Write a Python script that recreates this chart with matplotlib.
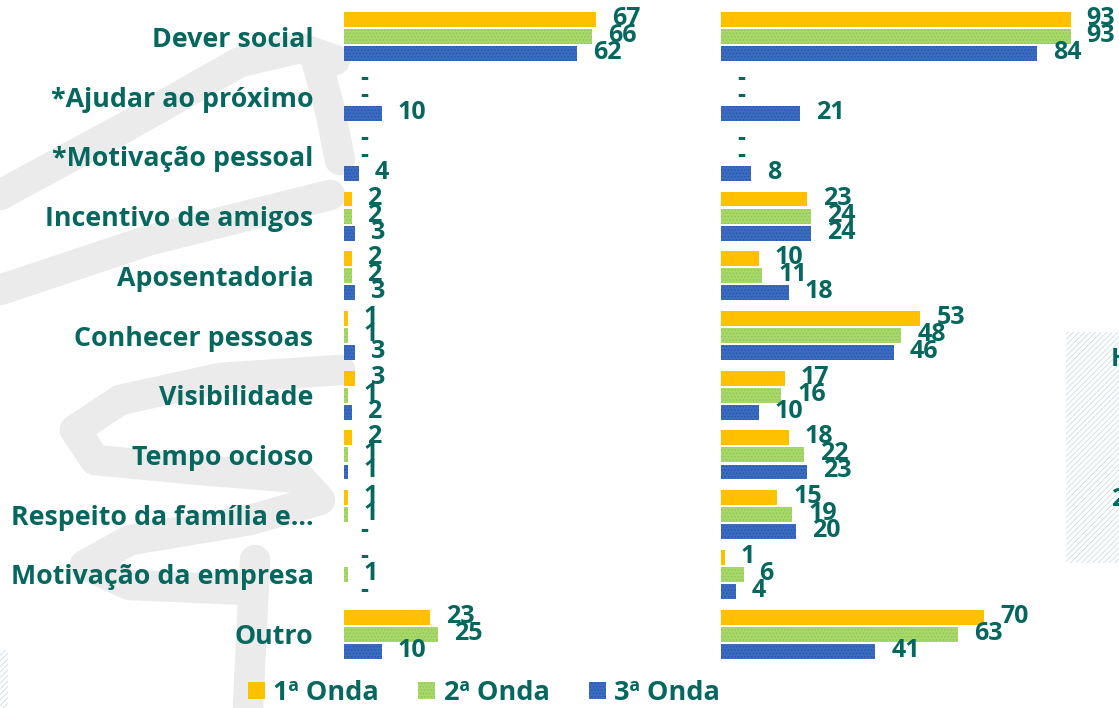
import matplotlib
matplotlib.use("Agg")
import matplotlib.pyplot as plt
from matplotlib.patches import Rectangle
import numpy as np

categories = ['Dever social', '*Ajudar ao próximo', '*Motivação pessoal',
              'Incentivo de amigos', 'Aposentadoria', 'Conhecer pessoas',
              'Visibilidade', 'Tempo ocioso', 'Respeito da família e...',
              'Motivação da empresa', 'Outro']
series_names = ['1ª Onda', '2ª Onda', '3ª Onda']

left_onda1 = [67, None, None, 2, 2, 1, 3, 2, 1, None, 23]
left_onda2 = [66, None, None, 2, 2, 1, 1, 1, 1, 1, 25]
left_onda3 = [62, 10, 4, 3, 3, 3, 2, 1, None, None, 10]

right_onda1 = [93, None, None, 23, 10, 53, 17, 18, 15, 1, 70]
right_onda2 = [93, None, None, 24, 11, 48, 16, 22, 19, 6, 63]
right_onda3 = [84, 21, 8, 24, 18, 46, 10, 23, 20, 4, 41]

TEAL = '#06675f'
FONT = 'Open Sans'
FS_CAT = 19.3
FS_VAL = 18
FS_LEG = 19.5
colors = ['#FFC000', '#A8D86A', '#3A6CC2']
hatch_cols = ['#FFC000', '#8DC653', '#2A55A0']
hatches = [None, '.....', '.....']

W, H = 1119, 708
fig = plt.figure(figsize=(W / 100, H / 100), dpi=100)
plt.rcParams['hatch.linewidth'] = 0.6

# background decoration layer (pixel coordinates)
bg = fig.add_axes([0, 0, 1, 1], zorder=-5)
bg.set_xlim(0, W)
bg.set_ylim(H, 0)
bg.axis('off')
wm = '#EBEBEB'
strokes = [
    [(0, 195), (120, 130), (240, 62), (300, 48), (335, 60)],
    [(315, 55), (330, 110), (340, 160)],
    [(0, 290), (150, 240), (330, 195)],
    [(340, 370), (220, 378), (120, 400), (75, 430), (95, 460), (200, 470),
     (300, 478), (320, 500), (250, 520), (130, 540), (85, 565), (130, 585),
     (250, 590)],
    [(255, 560), (248, 708)],
]
for s in strokes:
    xs, ys = zip(*s)
    bg.plot(xs, ys, color=wm, lw=22, solid_capstyle='round',
            solid_joinstyle='round')
bg.add_patch(Rectangle((1066, 332), 60, 231, facecolor='white',
                       edgecolor='#CFDCE3', hatch='//////', lw=0))
bg.add_patch(Rectangle((-5, 650), 13, 70, facecolor='white',
                       edgecolor='#CFDCE3', hatch='//////', lw=0))
bg.text(1111, 360, 'H', color=TEAL, fontsize=FS_VAL, fontweight='bold',
        family=FONT, va='center', ha='left')
bg.text(1111, 500, '2', color=TEAL, fontsize=FS_VAL, fontweight='bold',
        family=FONT, va='center', ha='left')

PX_PER_UNIT = 3.76
top_px, bot_px = 7, 664


def make_axes(x0_px, x1_px):
    ax = fig.add_axes([x0_px / W, 1 - bot_px / H, (x1_px - x0_px) / W,
                       (bot_px - top_px) / H])
    ax.set_xlim(0, (x1_px - x0_px) / PX_PER_UNIT)
    ax.set_ylim(len(categories) - 0.5, -0.5)
    ax.patch.set_alpha(0)
    for sp in ax.spines.values():
        sp.set_visible(False)
    ax.set_xticks([])
    ax.tick_params(axis='y', length=0, pad=22)
    return ax


ax_l = make_axes(344, 700)
ax_r = make_axes(721, W)

y = np.arange(len(categories))
offsets = [-0.285, 0.0, 0.285]
bh = 0.25


def draw(ax, data_series):
    handles = []
    for k, vals in enumerate(data_series):
        v = [0 if d is None else d for d in vals]
        b = ax.barh(y + offsets[k], v, height=bh, color=colors[k],
                    edgecolor=hatch_cols[k], hatch=hatches[k], lw=0,
                    label=series_names[k])
        handles.append(b)
        for yi, d in zip(y + offsets[k], vals):
            txt = '-' if d is None else str(d)
            ax.annotate(txt, xy=(0 if d is None else d, yi),
                        xytext=(16, 1), textcoords='offset pixels',
                        ha='left', va='center', color=TEAL, fontsize=FS_VAL,
                        fontweight='bold', family=FONT, annotation_clip=False,
                        clip_on=False)
    return handles


handles = draw(ax_l, [left_onda1, left_onda2, left_onda3])
draw(ax_r, [right_onda1, right_onda2, right_onda3])

ax_l.set_yticks(y)
ax_l.set_yticklabels(categories, color=TEAL, fontsize=FS_CAT,
                     fontweight='bold', family=FONT)
ax_r.set_yticks([])

leg = fig.legend(handles=handles, labels=series_names, loc='center',
                 bbox_to_anchor=(484 / W, 1 - 693 / H), ncol=3, frameon=False,
                 prop={'family': FONT, 'weight': 'bold', 'size': FS_LEG},
                 labelcolor=TEAL, handlelength=0.63, handleheight=0.63,
                 handletextpad=0.3, columnspacing=1.45, borderpad=0)

fig.savefig('out.png', dpi=100)
